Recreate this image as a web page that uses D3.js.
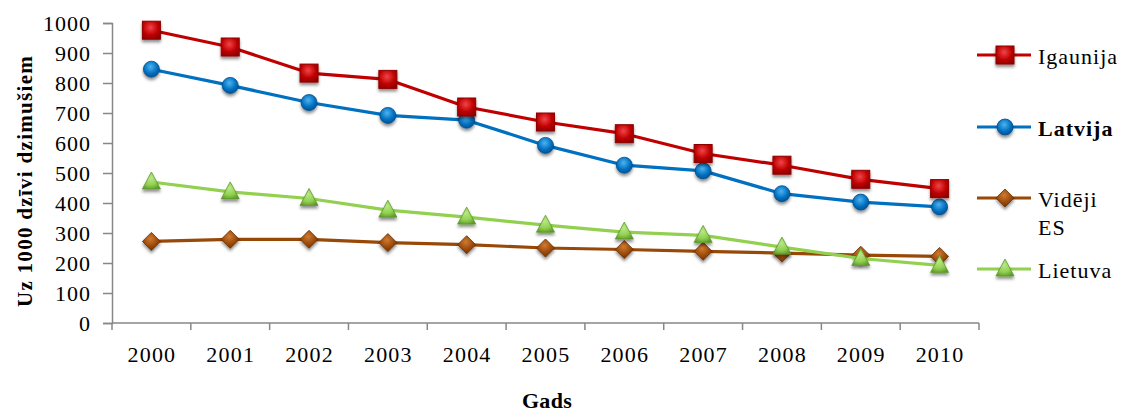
<!DOCTYPE html>
<html>
<head>
<meta charset="utf-8">
<script src="https://cdn.jsdelivr.net/npm/d3@7"></script>
<style>
  html, body { margin: 0; padding: 0; background: #fff; }
  svg { display: block; }
</style>
</head>
<body>
<svg id="chart" width="1123" height="414"></svg>
<script>
// Years on the category axis
const years = ["2000", "2001", "2002", "2003", "2004", "2005", "2006", "2007", "2008", "2009", "2010"];

// Per 1000 live births, by country
const igaunija = [976, 920, 833, 812, 720, 670, 631, 565, 526, 479, 448];
const latvija  = [846, 792, 735, 692, 676, 592, 526, 507, 431, 403, 387];
const videjiES = [272, 279, 279, 268, 261, 250, 245, 239, 233, 226, 222];
const lietuva  = [470, 437, 415, 376, 353, 326, 303, 292, 253, 215, 192];

const yTicks = [0, 100, 200, 300, 400, 500, 600, 700, 800, 900, 1000];

const seriesNames = ["Igaunija", "Latvija", "Vidēji ES", "Lietuva"];

const series = [
  { name: seriesNames[0], values: igaunija, color: "#C00000", light: "#F0454A", dark: "#8E0000", shape: "square" },
  { name: seriesNames[1], values: latvija,  color: "#0070C0", light: "#4FB2F0", dark: "#004E8C", shape: "circle" },
  { name: seriesNames[2], values: videjiES, color: "#984807", light: "#D07A32", dark: "#6A3005", shape: "diamond" },
  { name: seriesNames[3], values: lietuva,  color: "#92D050", light: "#B8E888", dark: "#5E9A2A", shape: "triangle" }
];

const FONT = '"Liberation Serif", "Times New Roman", serif';

const svg = d3.select("#chart");
const defs = svg.append("defs");

// soft shadow under each marker
const sh = defs.append("filter").attr("id", "shadow")
  .attr("x", "-50%").attr("y", "-50%").attr("width", "200%").attr("height", "220%");
sh.append("feDropShadow").attr("dx", 0).attr("dy", 2.5).attr("stdDeviation", 1.8)
  .attr("flood-color", "#000").attr("flood-opacity", 0.45);

series.forEach((s, i) => {
  const g = defs.append("radialGradient").attr("id", "grad" + i)
    .attr("cx", "45%").attr("cy", "35%").attr("r", "70%");
  g.append("stop").attr("offset", "0%").attr("stop-color", s.light);
  g.append("stop").attr("offset", "60%").attr("stop-color", s.color);
  g.append("stop").attr("offset", "100%").attr("stop-color", s.dark);
});

function styleText(sel, size, weight, spacing) {
  sel.style("font-family", FONT)
    .style("font-size", size + "px")
    .style("font-weight", weight || "normal")
    .style("letter-spacing", (spacing || 0) + "px")
    .attr("fill", "#000");
}

const margin = { left: 112, top: 23, right: 979, bottom: 323 };

const x = d3.scaleBand().domain(years).range([margin.left, margin.right]);
const y = d3.scaleLinear().domain([0, 1000]).range([margin.bottom, margin.top]);

const axisColor = "#878787";

// Y axis
const yAxis = svg.append("g").attr("transform", `translate(${margin.left},0)`)
  .call(d3.axisLeft(y).tickValues(yTicks).tickSize(9).tickPadding(12).tickFormat(d3.format("d")));
yAxis.select(".domain").attr("stroke", axisColor).attr("stroke-width", 1.5);
yAxis.selectAll(".tick line").attr("stroke", axisColor).attr("stroke-width", 1.5);
yAxis.selectAll(".tick text").call(styleText, 22, "normal", 1);

// X axis: ticks sit between categories
const xAxisG = svg.append("g").attr("transform", `translate(0,${margin.bottom})`);
xAxisG.append("line").attr("x1", margin.left).attr("x2", margin.right)
  .attr("stroke", axisColor).attr("stroke-width", 1.5);
const bounds = years.map(d => x(d)).concat([x(years[years.length - 1]) + x.bandwidth()]);
xAxisG.selectAll("line.tk").data(bounds).enter().append("line").attr("class", "tk")
  .attr("x1", d => d).attr("x2", d => d).attr("y1", 0).attr("y2", 7)
  .attr("stroke", axisColor).attr("stroke-width", 1.5);
xAxisG.selectAll("text").data(years).enter().append("text")
  .attr("x", d => x(d) + x.bandwidth() / 2 + 0.5).attr("y", 38.5)
  .attr("text-anchor", "middle").text(d => d)
  .call(styleText, 22, "normal", 1.2);

// Axis titles
svg.append("text")
  .attr("transform", `translate(32,181) rotate(-90)`)
  .attr("text-anchor", "middle")
  .text("Uz 1000 dzīvi dzimušiem")
  .call(styleText, 21, "bold", 1.3);
svg.append("text").attr("x", 547).attr("y", 408)
  .attr("text-anchor", "middle")
  .text("Gads")
  .call(styleText, 22, "bold", 0.3);

function drawMarker(sel, s, i) {
  const fill = `url(#grad${i})`;
  if (s.shape === "square") {
    sel.append("rect").attr("x", -9).attr("y", -9).attr("width", 18).attr("height", 18)
      .attr("fill", fill).attr("stroke", s.dark).attr("stroke-width", 1);
  } else if (s.shape === "circle") {
    sel.append("circle").attr("r", 8).attr("fill", fill).attr("stroke", s.dark).attr("stroke-width", 0.8);
  } else if (s.shape === "diamond") {
    sel.append("path").attr("d", "M0,-9L9,0L0,9L-9,0Z").attr("fill", fill)
      .attr("stroke", s.dark).attr("stroke-width", 0.8);
  } else {
    sel.append("path").attr("d", "M0,-10L9,7L-9,7Z").attr("fill", fill)
      .attr("stroke", s.dark).attr("stroke-width", 0.8);
  }
}

const line = d3.line().x((d, j) => x(years[j]) + x.bandwidth() / 2).y(d => y(d));

// draw bottom series first so Igaunija/Latvija sit on top
const order = [2, 3, 1, 0];
order.forEach(i => {
  const s = series[i];
  const g = svg.append("g");
  g.append("path").datum(s.values).attr("d", line)
    .attr("fill", "none").attr("stroke", s.color).attr("stroke-width", 3.2)
    .attr("stroke-linejoin", "round");
  s.values.forEach((v, j) => {
    const m = g.append("g")
      .attr("transform", `translate(${x(years[j]) + x.bandwidth() / 2},${y(v)})`)
      .attr("filter", "url(#shadow)");
    drawMarker(m, s, i);
  });
});

// Legend
const legendY = [55, 127, 198, 269];
series.forEach((s, i) => {
  const g = svg.append("g").attr("transform", `translate(977,${legendY[i]})`);
  g.append("line").attr("x1", 0).attr("x2", 54).attr("stroke", s.color).attr("stroke-width", 3.2);
  const m = g.append("g").attr("transform", "translate(28,0)").attr("filter", "url(#shadow)");
  drawMarker(m, s, i);
  const t = g.append("text").attr("x", 61)
    .call(styleText, 22, i === 1 ? "bold" : "normal", 1);
  if (i === 2) {
    t.append("tspan").attr("x", 61).attr("y", 9).text("Vidēji");
    t.append("tspan").attr("x", 61).attr("y", 37).text("ES");
  } else {
    t.attr("y", 9).text(s.name);
  }
});
</script>
</body>
</html>
